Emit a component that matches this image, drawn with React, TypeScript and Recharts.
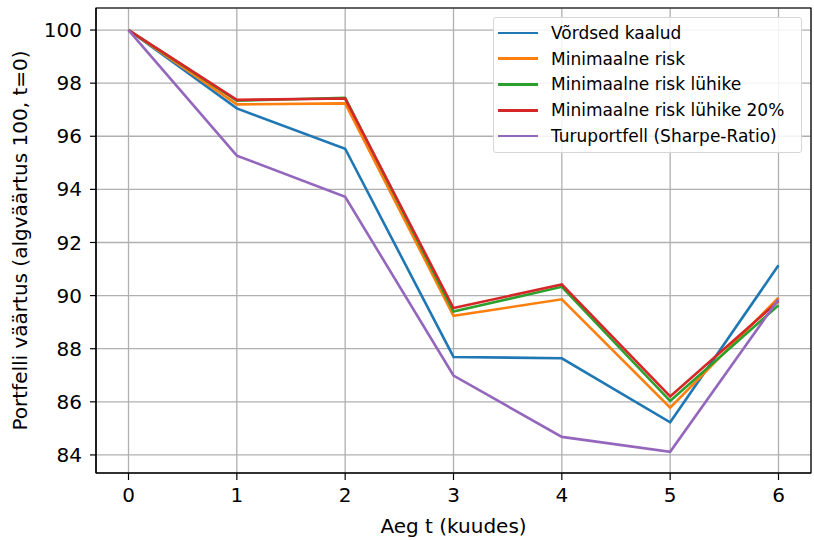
import React from "react";
import {
  LineChart,
  Line,
  XAxis,
  YAxis,
  CartesianGrid,
  ReferenceArea,
} from "recharts";

const months = [0, 1, 2, 3, 4, 5, 6];
const vordsed = [100, 97.05, 95.53, 87.69, 87.64, 85.23, 91.14];
const minRisk = [100, 97.2, 97.24, 89.24, 89.86, 85.78, 89.92];
const minRiskLuhike = [100, 97.34, 97.45, 89.4, 90.33, 86.03, 89.64];
const minRiskLuhike20 = [100, 97.37, 97.42, 89.53, 90.42, 86.2, 89.8];
const turuportfell = [100, 95.27, 93.72, 86.99, 84.68, 84.12, 89.86];
const yTicks = [84, 86, 88, 90, 92, 94, 96, 98, 100];

const series = [
  { key: "vordsed", name: "Võrdsed kaalud", color: "#1f77b4", values: vordsed },
  { key: "minRisk", name: "Minimaalne risk", color: "#ff7f0e", values: minRisk },
  { key: "minRiskLuhike", name: "Minimaalne risk lühike", color: "#2ca02c", values: minRiskLuhike },
  { key: "minRiskLuhike20", name: "Minimaalne risk lühike 20%", color: "#d62728", values: minRiskLuhike20 },
  { key: "turu", name: "Turuportfell (Sharpe-Ratio)", color: "#9467bd", values: turuportfell },
];

const data = months.map((t, i) => {
  const row: { [key: string]: number } = { t };
  series.forEach((s) => {
    row[s.key] = s.values[i];
  });
  return row;
});

const font = "DejaVu Sans, sans-serif";
const xDomain = [-0.3, 6.3];
const yDomain = [83.32, 100.83];

// legend drawn as an overlay so the plot keeps its full height
function LegendBox() {
  return (
    <div
      style={{
        position: "absolute",
        left: 493,
        top: 17,
        width: 309,
        height: 136,
        border: "1px solid #d6d6d6",
        borderRadius: 3,
        background: "rgba(255,255,255,0.85)",
        paddingTop: 2,
        fontFamily: font,
        fontSize: 17,
        color: "#000",
        boxSizing: "border-box",
      }}
    >
      {series.map((s) => (
        <div key={s.key} style={{ display: "flex", alignItems: "center", height: 25.8 }}>
          <div style={{ width: 40, height: 2.8, background: s.color, marginLeft: 4, marginRight: 13 }} />
          <span style={{ whiteSpace: "nowrap" }}>{s.name}</span>
        </div>
      ))}
    </div>
  );
}

export default function App() {
  return (
    <div style={{ position: "absolute", left: 0, top: 0, width: 814, height: 540, background: "#fff" }}>
      <LineChart
        width={814}
        height={540}
        data={data}
        margin={{ top: 8, right: 3, bottom: 0, left: 0 }}
      >
        <CartesianGrid stroke="#b0b0b0" strokeWidth={1.3} />
        <XAxis
          dataKey="t"
          type="number"
          domain={xDomain}
          ticks={months}
          allowDataOverflow
          stroke="#000"
          strokeWidth={1.2}
          tickSize={7}
          tickMargin={8}
          height={67}
          tick={{ fill: "#000", fontSize: 20, fontFamily: font }}
          label={{ value: "Aeg t (kuudes)", position: "insideBottom", offset: 7, fill: "#000", fontSize: 20, fontFamily: font }}
        />
        <YAxis
          type="number"
          domain={yDomain}
          ticks={yTicks}
          allowDataOverflow
          stroke="#000"
          strokeWidth={1.2}
          tickSize={6}
          tickMargin={8}
          width={96}
          tick={{ fill: "#000", fontSize: 20, fontFamily: font }}
          label={{
            value: "Portfelli väärtus (algväärtus 100, t=0)",
            angle: -90,
            position: "insideLeft",
            offset: 20,
            style: { textAnchor: "middle" },
            fill: "#000",
            fontSize: 20,
            fontFamily: font,
          }}
        />
        {series.map((s) => (
          <Line
            key={s.key}
            dataKey={s.key}
            name={s.name}
            stroke={s.color}
            strokeWidth={2.6}
            dot={false}
            type="linear"
            isAnimationActive={false}
          />
        ))}
        <ReferenceArea
          x1={xDomain[0]}
          x2={xDomain[1]}
          y1={yDomain[0]}
          y2={yDomain[1]}
          fill="none"
          fillOpacity={0}
          stroke="#000"
          strokeWidth={1.2}
        />
      </LineChart>
      <LegendBox />
    </div>
  );
}
